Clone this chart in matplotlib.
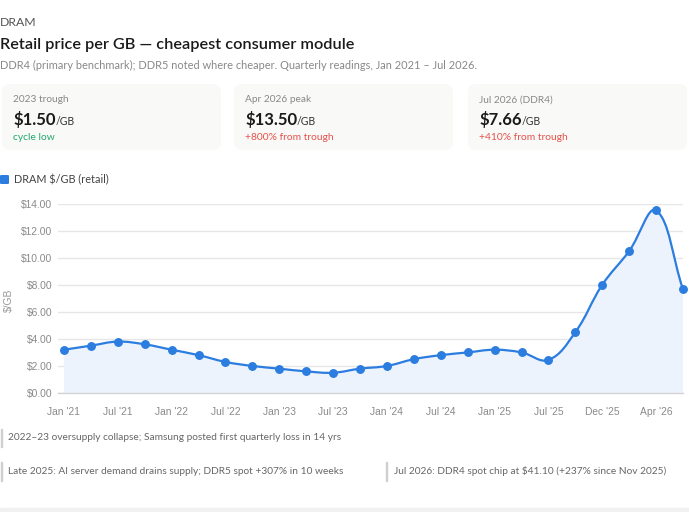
import numpy as np
import matplotlib
matplotlib.use('Agg')
import matplotlib.pyplot as plt
from matplotlib.path import Path
from matplotlib.patches import PathPatch, FancyBboxPatch, Rectangle

# quarterly readings, $/GB
periods = ["Jan '21", "Apr '21", "Jul '21", "Oct '21", "Jan '22", "Apr '22",
           "Jul '22", "Oct '22", "Jan '23", "Apr '23", "Jul '23", "Oct '23",
           "Jan '24", "Apr '24", "Jul '24", "Oct '24", "Jan '25", "Apr '25",
           "Jul '25", "Oct '25", "Dec '25", "Feb '26", "Apr '26", "Jul '26"]
price = [3.2, 3.5, 3.8, 3.6, 3.2, 2.8, 2.3, 2.0, 1.8, 1.6, 1.5, 1.8,
         2.0, 2.5, 2.8, 3.0, 3.2, 3.0, 2.45, 4.5, 8.0, 10.5, 13.5, 7.66]
y_ticks = [0, 2, 4, 6, 8, 10, 12, 14]

card_labels = ["2023 trough", "Apr 2026 peak", "Jul 2026 (DDR4)"]
card_values = ["$1.50", "$13.50", "$7.66"]
card_notes = ["cycle low", "+800% from trough", "+410% from trough"]
card_note_colors = ["#22a96e", "#e5534b", "#e5534b"]

notes_row1 = ["2022\u201323 oversupply collapse; Samsung posted first quarterly loss in 14 yrs"]
notes_row2 = ["Late 2025: AI server demand drains supply; DDR5 spot +307% in 10 weeks",
              "Jul 2026: DDR4 spot chip at $41.10 (+237% since Nov 2025)"]

BLUE = '#2b7de0'
W, H = 689, 512
UI = ['Lato', 'DejaVu Sans']
CH = ['Liberation Sans', 'DejaVu Sans']


def fx(px):
    return px / W


def fy(py):
    return 1 - py / H


def spline_path(ax, xs, ys, t=0.4):
    # chart.js style bezier through the points, worked out in pixel space
    pts = ax.transData.transform(np.column_stack([xs, ys]))
    n = len(pts)
    cps = []
    for i in range(n):
        prev = pts[max(i - 1, 0)]
        cur = pts[i]
        nxt = pts[min(i + 1, n - 1)]
        d01 = np.hypot(*(cur - prev))
        d12 = np.hypot(*(nxt - cur))
        tot = d01 + d12
        s01 = d01 / tot if tot else 0
        s12 = d12 / tot if tot else 0
        cps.append((cur - t * s01 * (nxt - prev), cur + t * s12 * (nxt - prev)))
    verts = [pts[0]]
    codes = [Path.MOVETO]
    for i in range(1, n):
        verts += [cps[i - 1][1], cps[i][0], pts[i]]
        codes += [Path.CURVE4] * 3
    verts = ax.transData.inverted().transform(np.array(verts))
    return verts, codes


fig = plt.figure(figsize=(W / 100, H / 100), dpi=100)
fig.patch.set_facecolor('white')

# header
fig.text(fx(0), fy(22), "DRAM", family=UI, fontsize=8.8, color='#555555', va='center')
fig.text(fx(0), fy(45), "Retail price per GB \u2014 cheapest consumer module",
         family=UI, fontsize=11.7, weight='semibold', color='#1a1a1a', va='center')
fig.text(fx(0), fy(65), "DDR4 (primary benchmark); DDR5 noted where cheaper. Quarterly readings, Jan 2021 \u2013 Jul 2026.",
         family=UI, fontsize=7.9, color='#888888', va='center')

# stat cards
card_x = [2, 234, 468]
for i in range(3):
    x0 = card_x[i]
    box = FancyBboxPatch((fx(x0), fy(150)), fx(219), 66 / H,
                         boxstyle='round,pad=0,rounding_size=0.012',
                         transform=fig.transFigure, facecolor='#f9f9f8',
                         edgecolor='none', mutation_aspect=W / H)
    fig.add_artist(box)
    fig.text(fx(x0 + 11), fy(100), card_labels[i], family=UI, fontsize=7.3,
             color='#888888', va='center')
    v = fig.text(fx(x0 + 11), fy(125), card_values[i], family=UI, fontsize=12,
                 weight='bold', color='#1a1a1a', va='baseline')
    fig.canvas.draw()
    bb = v.get_window_extent()
    fig.text(bb.x1 / W, fy(125), "/GB", family=UI, fontsize=7.6,
             color='#333333', va='baseline')
    fig.text(fx(x0 + 11), fy(138), card_notes[i], family=UI, fontsize=7.4,
             color=card_note_colors[i], va='center')

# legend
fig.add_artist(FancyBboxPatch((fx(0), fy(184)), fx(9), 9 / H,
                              boxstyle='round,pad=0,rounding_size=0.002',
                              transform=fig.transFigure, facecolor=BLUE,
                              edgecolor='none'))
fig.text(fx(14), fy(180), "DRAM $/GB (retail)", family=UI, fontsize=7.8,
         color='#444444', va='center')

# chart
ax = fig.add_axes([fx(58), fy(393), fx(683 - 58), (393 - 203.7) / H])
x = np.arange(len(price))
ax.set_xlim(-0.22, len(price) - 1)
ax.set_ylim(0, 14)
ax.set_yticks(y_ticks)
ax.set_yticklabels(['$%.2f' % v for v in y_ticks])
ax.set_xticks(x[::2])
ax.set_xticklabels(periods[::2])
for s in ['top', 'right', 'left']:
    ax.spines[s].set_visible(False)
ax.spines['bottom'].set_color('#d4d4d4')
ax.spines['bottom'].set_linewidth(1.0)
ax.grid(axis='y', color='#e6e6e6', linewidth=1.0)
ax.set_axisbelow(True)
ax.tick_params(axis='both', length=0, colors='#8a8a8a', labelsize=7.4)
ax.tick_params(axis='x', pad=10)
ax.tick_params(axis='y', pad=4)
for lab in ax.get_xticklabels() + ax.get_yticklabels():
    lab.set_family(CH)

verts, codes = spline_path(ax, x, price)
fill_verts = np.vstack([verts, [[x[-1], 0], [x[0], 0], [x[0], 0]]])
fill_codes = codes + [Path.LINETO, Path.LINETO, Path.CLOSEPOLY]
ax.add_patch(PathPatch(Path(fill_verts, fill_codes), facecolor='#edf3fc',
                       edgecolor='none', zorder=1))
ax.add_patch(PathPatch(Path(verts, codes), facecolor='none', edgecolor=BLUE,
                       linewidth=1.6, zorder=3, clip_on=False))
ax.plot(x, price, 'o', color=BLUE, markersize=5.4, zorder=4, clip_on=False)

fig.text(fx(9), fy(300), "$/GB", family=CH, fontsize=7.4, color='#999999',
         rotation=90, va='center', ha='center')

# annotations
fig.add_artist(Rectangle((fx(0.5), fy(447)), fx(1.2), 18 / H,
                         transform=fig.transFigure, color='#cfcfcf'))
fig.text(fx(8), fy(438), notes_row1[0], family=UI, fontsize=7.3,
         color='#666666', va='center')
for bx, tx, txt in zip([0.5, 386], [8, 394], notes_row2):
    fig.add_artist(Rectangle((fx(bx), fy(481)), fx(1.2), 19 / H,
                             transform=fig.transFigure, color='#cfcfcf'))
    fig.text(fx(tx), fy(471), txt, family=UI, fontsize=7.3, color='#666666',
             va='center')

# bottom strip
fig.add_artist(Rectangle((0, 0), 1, 4 / H, transform=fig.transFigure,
                         color='#f1f1f1'))

fig.savefig('out.png', dpi=100)
